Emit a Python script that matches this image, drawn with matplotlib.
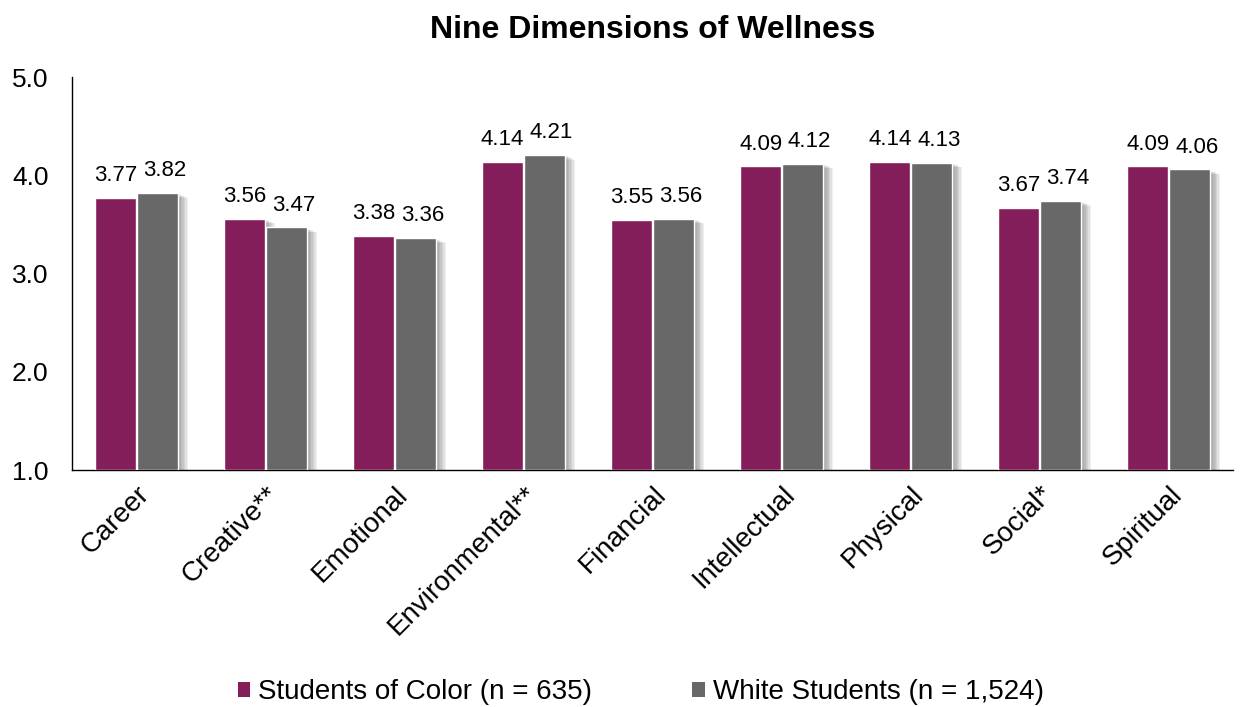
import matplotlib
matplotlib.use("Agg")
import matplotlib.pyplot as plt
import matplotlib.patheffects as pe
import matplotlib.transforms as mtransforms
import numpy as np

plt.rcParams['font.family'] = ['Liberation Sans', 'DejaVu Sans']

categories = ["Career", "Creative**", "Emotional", "Environmental**", "Financial",
              "Intellectual", "Physical", "Social*", "Spiritual"]
students_of_color = [3.77, 3.56, 3.38, 4.14, 3.55, 4.09, 4.14, 3.67, 4.09]
white_students = [3.82, 3.47, 3.36, 4.21, 3.56, 4.12, 4.13, 3.74, 4.06]
series_labels = ["Students of Color (n = 635)", "White Students (n = 1,524)"]
y_ticks = [1.0, 2.0, 3.0, 4.0, 5.0]

purple = "#841E5A"
grey = "#686868"

fig = plt.figure(figsize=(12.42, 7.07), dpi=100)
ax = fig.add_axes([0.058, 0.335, 0.935, 0.556])

x = np.arange(len(categories))
w = 0.32
off = 0.163
base = 1.0

# soft drop shadow built from several translucent offset layers
shadow = [pe.SimplePatchShadow(offset=(d, -d * 0.5), shadow_rgbFace="black", alpha=0.06)
          for d in (2, 3, 4, 5, 6, 7)]
shadow.append(pe.Normal())

for vals, col, dx, lab, nudge in [(students_of_color, purple, -off, series_labels[0], 0),
                                  (white_students, grey, off, series_labels[1], 5)]:
    heights = np.array(vals) - base
    bars = ax.bar(x + dx, heights, w, bottom=base, color=col, edgecolor="white",
                  linewidth=1.0, label=lab, zorder=3)
    for b in bars:
        b.set_path_effects(shadow)
    tr = ax.transData + mtransforms.ScaledTranslation(nudge / 72, 0, fig.dpi_scale_trans)
    for xi, v in zip(x + dx, vals):
        ax.text(xi, v + 0.12, f"{v:.2f}", ha="center", va="bottom", fontsize=16,
                color="black", transform=tr)

ax.set_xlim(-0.5, len(categories) - 0.5)
ax.set_ylim(1.0, 5.0)
ax.set_yticks(y_ticks)
ax.set_yticklabels([f"{t:.1f}" for t in y_ticks], fontsize=19)
ax.set_xticks(x)
ax.set_xticklabels(categories, rotation=45, ha="right", rotation_mode="anchor", fontsize=20)
ax.tick_params(axis="both", length=0, pad=8)
ax.tick_params(axis="y", pad=17)
for s in ["top", "right"]:
    ax.spines[s].set_visible(False)
for s in ["left", "bottom"]:
    ax.spines[s].set_color("black")
    ax.spines[s].set_linewidth(1.0)

ax.set_title("Nine Dimensions of Wellness", fontsize=23, fontweight="bold", pad=28)

leg = fig.legend(loc="lower center", bbox_to_anchor=(0.516, -0.033), ncol=2, frameon=False,
                 fontsize=20, handlelength=0.45, handleheight=0.45, handletextpad=0.3,
                 columnspacing=3.6)
for h in leg.legend_handles:
    h.set_path_effects([])
    h.set_edgecolor("none")

fig.savefig("out.png", dpi=100)
